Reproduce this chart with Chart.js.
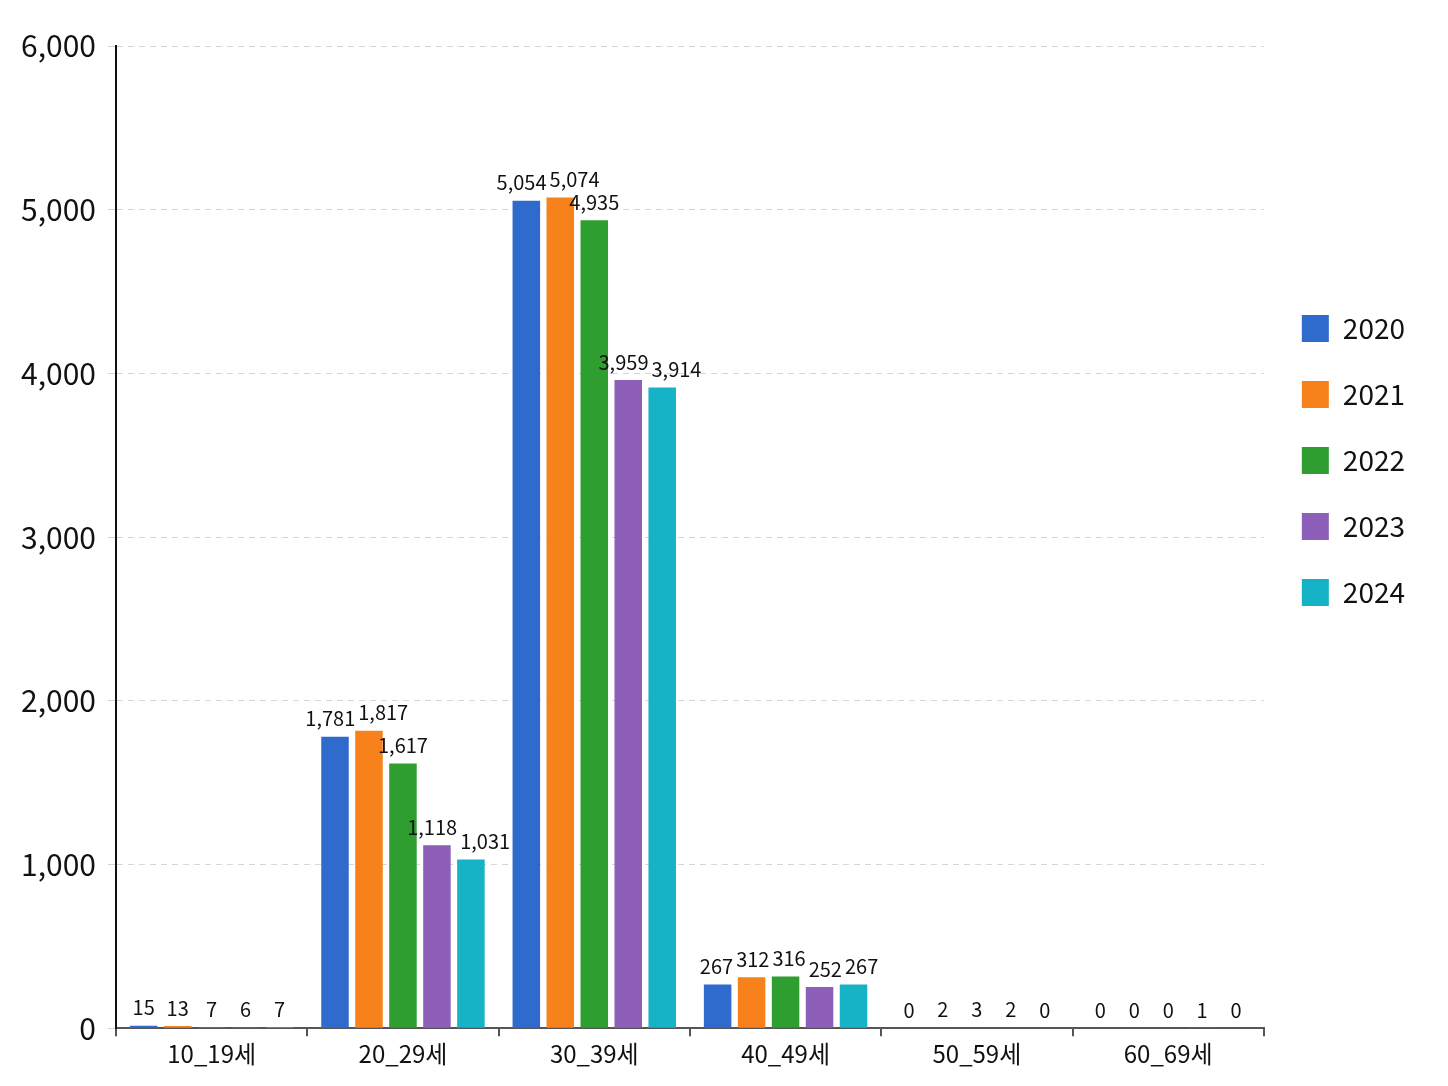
<!DOCTYPE html>
<html>
<head>
<meta charset="utf-8">
<script src="https://cdn.jsdelivr.net/npm/chart.js@4.4.1/dist/chart.umd.min.js"></script>
<style>
  html, body { margin: 0; padding: 0; background: #fff; }
  #wrap { width: 1448px; height: 1086px; }
</style>
</head>
<body>
<div id="wrap"><canvas id="age-chart" width="1448" height="1086"></canvas></div>
<script>
const ageGroups = ['10_19세', '20_29세', '30_39세', '40_49세', '50_59세', '60_69세'];
const years = ['2020', '2021', '2022', '2023', '2024'];

const values2020 = [15, 1781, 5054, 267, 0, 0];
const values2021 = [13, 1817, 5074, 312, 2, 0];
const values2022 = [7, 1617, 4935, 316, 3, 0];
const values2023 = [6, 1118, 3959, 252, 2, 1];
const values2024 = [7, 1031, 3914, 267, 0, 0];

const yTicks = [0, 1000, 2000, 3000, 4000, 5000, 6000];

const seriesColors = ['#2f6bcd', '#f7821b', '#2f9e30', '#8e5fb8', '#16b2c6'];
const FONT = "'Noto Sans CJK KR', 'Noto Sans', sans-serif";

// value labels above bars, pushed apart when neighbours collide
const barLabels = {
    id: 'barLabels',
    afterDatasetsDraw(chart) {
        const ctx = chart.ctx;
        ctx.save();
        ctx.font = '20px ' + FONT;
        ctx.fillStyle = '#111';
        ctx.textAlign = 'center';
        ctx.textBaseline = 'bottom';
        const h = 16;
        for (let i = 0; i < chart.data.labels.length; i++) {
            const items = [];
            chart.data.datasets.forEach((ds, d) => {
                const bar = chart.getDatasetMeta(d).data[i];
                const text = ds.data[i].toLocaleString('en-US');
                items.push({ x: bar.x, y: bar.y - 8, w: ctx.measureText(text).width, text: text });
            });
            for (let pass = 0; pass < 6; pass++) {
                for (let j = 1; j < items.length; j++) {
                    const a = items[j - 1], b = items[j];
                    const overlap = (a.x + a.w / 2 + 3) - (b.x - b.w / 2);
                    if (overlap > 0 && Math.abs(a.y - b.y) < h) {
                        a.x -= overlap * 0.25;
                        b.x += overlap * 0.75;
                    }
                }
            }
            items.forEach(it => ctx.fillText(it.text, it.x, it.y));
        }
        ctx.restore();
    }
};

const allSeries = [values2020, values2021, values2022, values2023, values2024];

new Chart(document.getElementById('age-chart'), {
    type: 'bar',
    data: {
        labels: ageGroups,
        datasets: years.map((y, k) => ({
            label: y,
            data: allSeries[k],
            backgroundColor: seriesColors[k],
            borderWidth: 0,
            categoryPercentage: 0.888,
            barPercentage: 0.81
        }))
    },
    options: {
        responsive: false,
        animation: false,
        devicePixelRatio: 1,
        layout: {
            padding: { top: 46, left: 20, right: 33, bottom: 15 }
        },
        scales: {
            x: {
                grid: {
                    display: true,
                    drawOnChartArea: false,
                    offset: true,
                    tickLength: 8,
                    color: '#555',
                    lineWidth: 2
                },
                border: { display: true, color: '#555', width: 2 },
                ticks: {
                    color: '#111',
                    padding: 3,
                    font: { family: FONT, size: 24 }
                }
            },
            y: {
                min: 0,
                max: 6000,
                afterBuildTicks(scale) {
                    scale.ticks = yTicks.map(v => ({ value: v }));
                },
                afterFit(scale) {
                    scale.width = 96;
                },
                grid: {
                    color: '#d6d6d6',
                    lineWidth: 1,
                    tickLength: 8,
                    drawTicks: true
                },
                border: { display: true, color: '#111', width: 2, dash: [6, 5] },
                ticks: {
                    color: '#111',
                    padding: 12,
                    font: { family: FONT, size: 30 },
                    callback: v => v.toLocaleString('en-US')
                }
            }
        },
        plugins: {
            legend: {
                position: 'right',
                align: 'start',
                title: { display: true, text: '', padding: { top: 216, bottom: 0 } },
                labels: {
                    boxWidth: 27,
                    boxHeight: 27,
                    padding: 38,
                    color: '#111',
                    font: { family: FONT, size: 28 }
                }
            },
            tooltip: { enabled: false }
        }
    },
    plugins: [barLabels]
});
</script>
</body>
</html>
